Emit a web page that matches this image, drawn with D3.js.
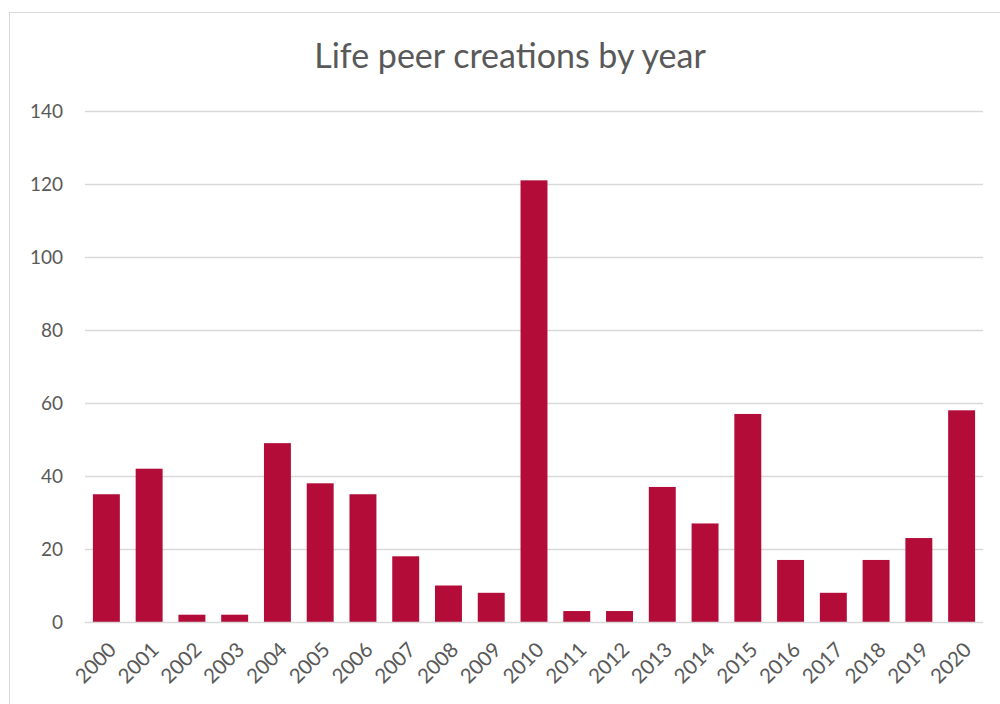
<!DOCTYPE html>
<html>
<head>
<meta charset="utf-8">
<script src="https://cdn.jsdelivr.net/npm/d3@7"></script>
<style>
  body { margin: 0; background: #fff; }
  text { font-family: Lato, "Open Sans", sans-serif; fill: #595959; }
</style>
</head>
<body>
<div id="chart"></div>
<script>
var years = ["2000","2001","2002","2003","2004","2005","2006","2007","2008","2009","2010",
             "2011","2012","2013","2014","2015","2016","2017","2018","2019","2020"];
var creations = [35, 42, 2, 2, 49, 38, 35, 18, 10, 8, 121, 3, 3, 37, 27, 57, 17, 8, 17, 23, 58];
var yTicks = [0, 20, 40, 60, 80, 100, 120, 140];
var chartTitle = "Life peer creations by year";

var width = 1000, height = 704;
var margin = {left: 85, right: 17, top: 111, bottom: 82}; // plot box

var svg = d3.select("#chart").append("svg")
    .attr("width", width)
    .attr("height", height);

// outer chart frame (partly off-page like the screenshot)
svg.append("rect")
    .attr("x", 9.5).attr("y", 12.5)
    .attr("width", 1010).attr("height", 720)
    .attr("fill", "none")
    .attr("stroke", "#d9d9d9");

var x = d3.scaleBand()
    .domain(years)
    .range([margin.left, width - margin.right])
    .paddingInner(0.37)
    .paddingOuter(0.185);

var y = d3.scaleLinear()
    .domain([0, 140])
    .range([height - margin.bottom, margin.top]);

//gridlines
svg.append("g").selectAll("line")
    .data(yTicks.filter(function (d) { return d > 0; }))
    .enter().append("line")
    .attr("x1", margin.left).attr("x2", width - margin.right)
    .attr("y1", function (d) { return Math.round(y(d)) + 0.5; })
    .attr("y2", function (d) { return Math.round(y(d)) + 0.5; })
    .attr("stroke", "#d9d9d9")
    .attr("stroke-width", 1.3);

//y labels
svg.append("g").selectAll("text")
    .data(yTicks)
    .enter().append("text")
    .attr("x", 63)
    .attr("y", function (d) { return y(d); })
    .attr("dy", "0.36em")
    .attr("text-anchor", "end")
    .style("font-size", "19px")
    .text(function (d) { return d; });

//bars
svg.append("g").selectAll("rect")
    .data(creations)
    .enter().append("rect")
    .attr("x", function (d, i) { return x(years[i]); })
    .attr("width", x.bandwidth())
    .attr("y", function (d) { return y(d); })
    .attr("height", function (d) { return y(0) - y(d); })
    .attr("fill", "#b30c38");

//x axis line
svg.append("line")
    .attr("x1", margin.left).attr("x2", width - margin.right)
    .attr("y1", y(0) + 0.5).attr("y2", y(0) + 0.5)
    .attr("stroke", "#d9d9d9")
    .attr("stroke-width", 1.5);

//x labels rotated
svg.append("g").selectAll("text")
    .data(years)
    .enter().append("text")
    .attr("text-anchor", "end")
    .attr("transform", function (d) {
        var cx = x(d) + x.bandwidth() / 2 + 6;
        return "translate(" + cx + "," + (y(0) + 24) + ") rotate(-45)";
    })
    .attr("dy", "0.35em")
    .style("font-size", "20.5px")
    .text(function (d) { return d; });

//title
svg.append("text")
    .attr("x", 510)
    .attr("y", 68)
    .attr("text-anchor", "middle")
    .style("font-size", "34px")
    .text(chartTitle);
</script>
</body>
</html>
